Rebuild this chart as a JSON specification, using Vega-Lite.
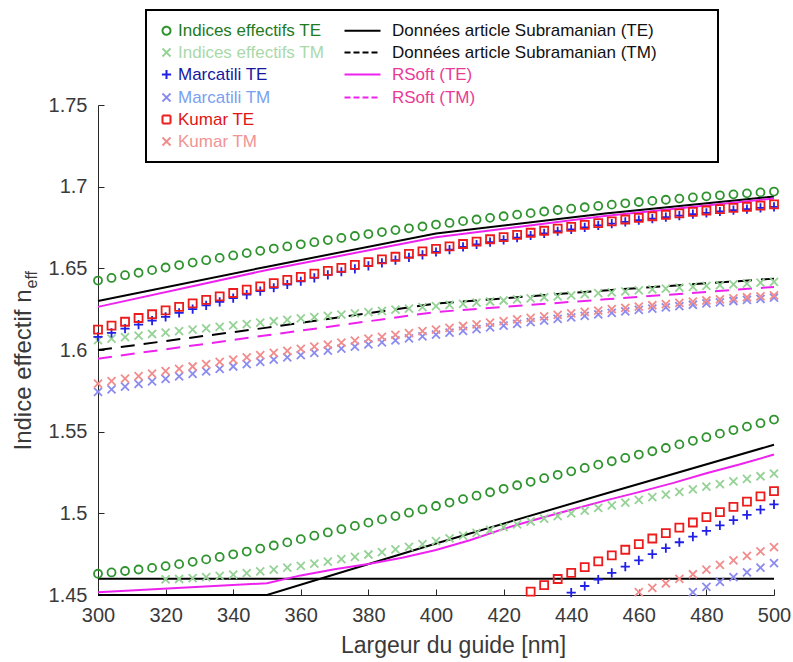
{
"$schema": "https://vega.github.io/schema/vega-lite/v6.json",
"width": 676, "height": 490,
"autosize": {"type": "none"},
"padding": {"left": 98, "top": 105, "right": 19, "bottom": 67},
"background": "white",
"config": {"font": "Liberation Sans", "view": {"stroke": null}, "legend": {"strokeWidth": 2}},
"datasets": {
"solid": [
{"s":"Données article Subramanian (TE)","b":"u","x":300,"y":1.630},{"s":"Données article Subramanian (TE)","b":"u","x":350,"y":1.651},{"s":"Données article Subramanian (TE)","b":"u","x":400,"y":1.6713},{"s":"Données article Subramanian (TE)","b":"u","x":450,"y":1.6835},{"s":"Données article Subramanian (TE)","b":"u","x":500,"y":1.694},
{"s":"Données article Subramanian (TE)","b":"l","x":300,"y":1.45},{"s":"Données article Subramanian (TE)","b":"l","x":350,"y":1.45},{"s":"Données article Subramanian (TE)","b":"l","x":400,"y":1.4815},{"s":"Données article Subramanian (TE)","b":"l","x":450,"y":1.512},{"s":"Données article Subramanian (TE)","b":"l","x":500,"y":1.542},
{"s":"Données article Subramanian (TE)","b":"h","x":300,"y":1.46},{"s":"Données article Subramanian (TE)","b":"h","x":500,"y":1.46},
{"s":"RSoft (TE)","b":"u","x":300,"y":1.6264},{"s":"RSoft (TE)","b":"u","x":350,"y":1.649},{"s":"RSoft (TE)","b":"u","x":400,"y":1.669},{"s":"RSoft (TE)","b":"u","x":450,"y":1.682},{"s":"RSoft (TE)","b":"u","x":500,"y":1.6928},
{"s":"RSoft (TE)","b":"l","x":300,"y":1.4517},{"s":"RSoft (TE)","b":"l","x":350,"y":1.4572},{"s":"RSoft (TE)","b":"l","x":360,"y":1.462},{"s":"RSoft (TE)","b":"l","x":370,"y":1.4658},{"s":"RSoft (TE)","b":"l","x":380,"y":1.469},{"s":"RSoft (TE)","b":"l","x":390,"y":1.4728},{"s":"RSoft (TE)","b":"l","x":400,"y":1.4775},{"s":"RSoft (TE)","b":"l","x":410,"y":1.4835},{"s":"RSoft (TE)","b":"l","x":420,"y":1.4905},{"s":"RSoft (TE)","b":"l","x":430,"y":1.4965},{"s":"RSoft (TE)","b":"l","x":440,"y":1.5022},{"s":"RSoft (TE)","b":"l","x":450,"y":1.5078},{"s":"RSoft (TE)","b":"l","x":460,"y":1.513},{"s":"RSoft (TE)","b":"l","x":470,"y":1.5185},{"s":"RSoft (TE)","b":"l","x":480,"y":1.5245},{"s":"RSoft (TE)","b":"l","x":490,"y":1.530},{"s":"RSoft (TE)","b":"l","x":500,"y":1.536}
],
"dashed": [
{"s":"Données article Subramanian (TM)","b":"u","x":300,"y":1.600},{"s":"Données article Subramanian (TM)","b":"u","x":350,"y":1.6137},{"s":"Données article Subramanian (TM)","b":"u","x":400,"y":1.6284},{"s":"Données article Subramanian (TM)","b":"u","x":450,"y":1.6365},{"s":"Données article Subramanian (TM)","b":"u","x":500,"y":1.6437},
{"s":"RSoft (TM)","b":"u","x":300,"y":1.5947},{"s":"RSoft (TM)","b":"u","x":350,"y":1.609},{"s":"RSoft (TM)","b":"u","x":400,"y":1.6233},{"s":"RSoft (TM)","b":"u","x":450,"y":1.631},{"s":"RSoft (TM)","b":"u","x":500,"y":1.6386}
],
"pts": [
{"s":"Indices effectifs TE","x":300,"y":1.6425},{"s":"Indices effectifs TE","x":304,"y":1.6441},{"s":"Indices effectifs TE","x":308,"y":1.6458},{"s":"Indices effectifs TE","x":312,"y":1.6473},{"s":"Indices effectifs TE","x":316,"y":1.6489},{"s":"Indices effectifs TE","x":320,"y":1.6505},{"s":"Indices effectifs TE","x":324,"y":1.6520},{"s":"Indices effectifs TE","x":328,"y":1.6535},{"s":"Indices effectifs TE","x":332,"y":1.6550},{"s":"Indices effectifs TE","x":336,"y":1.6564},{"s":"Indices effectifs TE","x":340,"y":1.6579},{"s":"Indices effectifs TE","x":344,"y":1.6593},{"s":"Indices effectifs TE","x":348,"y":1.6607},{"s":"Indices effectifs TE","x":352,"y":1.6621},{"s":"Indices effectifs TE","x":356,"y":1.6634},{"s":"Indices effectifs TE","x":360,"y":1.6647},{"s":"Indices effectifs TE","x":364,"y":1.6660},{"s":"Indices effectifs TE","x":368,"y":1.6673},{"s":"Indices effectifs TE","x":372,"y":1.6686},{"s":"Indices effectifs TE","x":376,"y":1.6698},{"s":"Indices effectifs TE","x":380,"y":1.6710},{"s":"Indices effectifs TE","x":384,"y":1.6722},{"s":"Indices effectifs TE","x":388,"y":1.6734},{"s":"Indices effectifs TE","x":392,"y":1.6745},{"s":"Indices effectifs TE","x":396,"y":1.6756},{"s":"Indices effectifs TE","x":400,"y":1.6768},{"s":"Indices effectifs TE","x":404,"y":1.6778},{"s":"Indices effectifs TE","x":408,"y":1.6789},{"s":"Indices effectifs TE","x":412,"y":1.6799},{"s":"Indices effectifs TE","x":416,"y":1.6809},{"s":"Indices effectifs TE","x":420,"y":1.6819},{"s":"Indices effectifs TE","x":424,"y":1.6829},{"s":"Indices effectifs TE","x":428,"y":1.6838},{"s":"Indices effectifs TE","x":432,"y":1.6848},{"s":"Indices effectifs TE","x":436,"y":1.6857},{"s":"Indices effectifs TE","x":440,"y":1.6865},{"s":"Indices effectifs TE","x":444,"y":1.6874},{"s":"Indices effectifs TE","x":448,"y":1.6882},{"s":"Indices effectifs TE","x":452,"y":1.6890},{"s":"Indices effectifs TE","x":456,"y":1.6898},{"s":"Indices effectifs TE","x":460,"y":1.6906},{"s":"Indices effectifs TE","x":464,"y":1.6913},{"s":"Indices effectifs TE","x":468,"y":1.6920},{"s":"Indices effectifs TE","x":472,"y":1.6927},{"s":"Indices effectifs TE","x":476,"y":1.6934},{"s":"Indices effectifs TE","x":480,"y":1.6941},{"s":"Indices effectifs TE","x":484,"y":1.6947},{"s":"Indices effectifs TE","x":488,"y":1.6953},{"s":"Indices effectifs TE","x":492,"y":1.6959},{"s":"Indices effectifs TE","x":496,"y":1.6965},{"s":"Indices effectifs TE","x":500,"y":1.6970},
{"s":"Indices effectifs TE","x":300,"y":1.4630},{"s":"Indices effectifs TE","x":304,"y":1.4638},{"s":"Indices effectifs TE","x":308,"y":1.4647},{"s":"Indices effectifs TE","x":312,"y":1.4656},{"s":"Indices effectifs TE","x":316,"y":1.4666},{"s":"Indices effectifs TE","x":320,"y":1.4677},{"s":"Indices effectifs TE","x":324,"y":1.4689},{"s":"Indices effectifs TE","x":328,"y":1.4703},{"s":"Indices effectifs TE","x":332,"y":1.4718},{"s":"Indices effectifs TE","x":336,"y":1.4733},{"s":"Indices effectifs TE","x":340,"y":1.4749},{"s":"Indices effectifs TE","x":344,"y":1.4766},{"s":"Indices effectifs TE","x":348,"y":1.4784},{"s":"Indices effectifs TE","x":352,"y":1.4803},{"s":"Indices effectifs TE","x":356,"y":1.4822},{"s":"Indices effectifs TE","x":360,"y":1.4842},{"s":"Indices effectifs TE","x":364,"y":1.4863},{"s":"Indices effectifs TE","x":368,"y":1.4883},{"s":"Indices effectifs TE","x":372,"y":1.4903},{"s":"Indices effectifs TE","x":376,"y":1.4923},{"s":"Indices effectifs TE","x":380,"y":1.4943},{"s":"Indices effectifs TE","x":384,"y":1.4963},{"s":"Indices effectifs TE","x":388,"y":1.4983},{"s":"Indices effectifs TE","x":392,"y":1.5004},{"s":"Indices effectifs TE","x":396,"y":1.5024},{"s":"Indices effectifs TE","x":400,"y":1.5045},{"s":"Indices effectifs TE","x":404,"y":1.5066},{"s":"Indices effectifs TE","x":408,"y":1.5087},{"s":"Indices effectifs TE","x":412,"y":1.5108},{"s":"Indices effectifs TE","x":416,"y":1.5129},{"s":"Indices effectifs TE","x":420,"y":1.5150},{"s":"Indices effectifs TE","x":424,"y":1.5172},{"s":"Indices effectifs TE","x":428,"y":1.5193},{"s":"Indices effectifs TE","x":432,"y":1.5215},{"s":"Indices effectifs TE","x":436,"y":1.5236},{"s":"Indices effectifs TE","x":440,"y":1.5257},{"s":"Indices effectifs TE","x":444,"y":1.5278},{"s":"Indices effectifs TE","x":448,"y":1.5298},{"s":"Indices effectifs TE","x":452,"y":1.5319},{"s":"Indices effectifs TE","x":456,"y":1.5339},{"s":"Indices effectifs TE","x":460,"y":1.5360},{"s":"Indices effectifs TE","x":464,"y":1.5380},{"s":"Indices effectifs TE","x":468,"y":1.5400},{"s":"Indices effectifs TE","x":472,"y":1.5422},{"s":"Indices effectifs TE","x":476,"y":1.5444},{"s":"Indices effectifs TE","x":480,"y":1.5466},{"s":"Indices effectifs TE","x":484,"y":1.5488},{"s":"Indices effectifs TE","x":488,"y":1.5510},{"s":"Indices effectifs TE","x":492,"y":1.5531},{"s":"Indices effectifs TE","x":496,"y":1.5552},{"s":"Indices effectifs TE","x":500,"y":1.5574},
{"s":"Indices effectifs TM","x":300,"y":1.6060},{"s":"Indices effectifs TM","x":304,"y":1.6070},{"s":"Indices effectifs TM","x":308,"y":1.6079},{"s":"Indices effectifs TM","x":312,"y":1.6088},{"s":"Indices effectifs TM","x":316,"y":1.6098},{"s":"Indices effectifs TM","x":320,"y":1.6107},{"s":"Indices effectifs TM","x":324,"y":1.6116},{"s":"Indices effectifs TM","x":328,"y":1.6125},{"s":"Indices effectifs TM","x":332,"y":1.6133},{"s":"Indices effectifs TM","x":336,"y":1.6142},{"s":"Indices effectifs TM","x":340,"y":1.6151},{"s":"Indices effectifs TM","x":344,"y":1.6159},{"s":"Indices effectifs TM","x":348,"y":1.6168},{"s":"Indices effectifs TM","x":352,"y":1.6176},{"s":"Indices effectifs TM","x":356,"y":1.6184},{"s":"Indices effectifs TM","x":360,"y":1.6193},{"s":"Indices effectifs TM","x":364,"y":1.6201},{"s":"Indices effectifs TM","x":368,"y":1.6209},{"s":"Indices effectifs TM","x":372,"y":1.6216},{"s":"Indices effectifs TM","x":376,"y":1.6224},{"s":"Indices effectifs TM","x":380,"y":1.6232},{"s":"Indices effectifs TM","x":384,"y":1.6240},{"s":"Indices effectifs TM","x":388,"y":1.6247},{"s":"Indices effectifs TM","x":392,"y":1.6254},{"s":"Indices effectifs TM","x":396,"y":1.6262},{"s":"Indices effectifs TM","x":400,"y":1.6269},{"s":"Indices effectifs TM","x":404,"y":1.6276},{"s":"Indices effectifs TM","x":408,"y":1.6283},{"s":"Indices effectifs TM","x":412,"y":1.6290},{"s":"Indices effectifs TM","x":416,"y":1.6297},{"s":"Indices effectifs TM","x":420,"y":1.6303},{"s":"Indices effectifs TM","x":424,"y":1.6310},{"s":"Indices effectifs TM","x":428,"y":1.6316},{"s":"Indices effectifs TM","x":432,"y":1.6323},{"s":"Indices effectifs TM","x":436,"y":1.6329},{"s":"Indices effectifs TM","x":440,"y":1.6335},{"s":"Indices effectifs TM","x":444,"y":1.6342},{"s":"Indices effectifs TM","x":448,"y":1.6348},{"s":"Indices effectifs TM","x":452,"y":1.6353},{"s":"Indices effectifs TM","x":456,"y":1.6359},{"s":"Indices effectifs TM","x":460,"y":1.6365},{"s":"Indices effectifs TM","x":464,"y":1.6371},{"s":"Indices effectifs TM","x":468,"y":1.6376},{"s":"Indices effectifs TM","x":472,"y":1.6382},{"s":"Indices effectifs TM","x":476,"y":1.6387},{"s":"Indices effectifs TM","x":480,"y":1.6392},{"s":"Indices effectifs TM","x":484,"y":1.6397},{"s":"Indices effectifs TM","x":488,"y":1.6402},{"s":"Indices effectifs TM","x":492,"y":1.6407},{"s":"Indices effectifs TM","x":496,"y":1.6412},{"s":"Indices effectifs TM","x":500,"y":1.6417},
{"s":"Indices effectifs TM","x":320,"y":1.4595},{"s":"Indices effectifs TM","x":324,"y":1.4598},{"s":"Indices effectifs TM","x":328,"y":1.4603},{"s":"Indices effectifs TM","x":332,"y":1.4610},{"s":"Indices effectifs TM","x":336,"y":1.4617},{"s":"Indices effectifs TM","x":340,"y":1.4625},{"s":"Indices effectifs TM","x":344,"y":1.4634},{"s":"Indices effectifs TM","x":348,"y":1.4644},{"s":"Indices effectifs TM","x":352,"y":1.4655},{"s":"Indices effectifs TM","x":356,"y":1.4667},{"s":"Indices effectifs TM","x":360,"y":1.4679},{"s":"Indices effectifs TM","x":364,"y":1.4692},{"s":"Indices effectifs TM","x":368,"y":1.4705},{"s":"Indices effectifs TM","x":372,"y":1.4719},{"s":"Indices effectifs TM","x":376,"y":1.4733},{"s":"Indices effectifs TM","x":380,"y":1.4748},{"s":"Indices effectifs TM","x":384,"y":1.4763},{"s":"Indices effectifs TM","x":388,"y":1.4779},{"s":"Indices effectifs TM","x":392,"y":1.4795},{"s":"Indices effectifs TM","x":396,"y":1.4812},{"s":"Indices effectifs TM","x":400,"y":1.4830},{"s":"Indices effectifs TM","x":404,"y":1.4847},{"s":"Indices effectifs TM","x":408,"y":1.4864},{"s":"Indices effectifs TM","x":412,"y":1.4881},{"s":"Indices effectifs TM","x":416,"y":1.4898},{"s":"Indices effectifs TM","x":420,"y":1.4915},{"s":"Indices effectifs TM","x":424,"y":1.4933},{"s":"Indices effectifs TM","x":428,"y":1.4950},{"s":"Indices effectifs TM","x":432,"y":1.4967},{"s":"Indices effectifs TM","x":436,"y":1.4983},{"s":"Indices effectifs TM","x":440,"y":1.5000},{"s":"Indices effectifs TM","x":444,"y":1.5016},{"s":"Indices effectifs TM","x":448,"y":1.5033},{"s":"Indices effectifs TM","x":452,"y":1.5049},{"s":"Indices effectifs TM","x":456,"y":1.5066},{"s":"Indices effectifs TM","x":460,"y":1.5082},{"s":"Indices effectifs TM","x":464,"y":1.5099},{"s":"Indices effectifs TM","x":468,"y":1.5115},{"s":"Indices effectifs TM","x":472,"y":1.5131},{"s":"Indices effectifs TM","x":476,"y":1.5147},{"s":"Indices effectifs TM","x":480,"y":1.5163},{"s":"Indices effectifs TM","x":484,"y":1.5179},{"s":"Indices effectifs TM","x":488,"y":1.5195},{"s":"Indices effectifs TM","x":492,"y":1.5211},{"s":"Indices effectifs TM","x":496,"y":1.5227},{"s":"Indices effectifs TM","x":500,"y":1.5243},
{"s":"Marcatili TE","x":300,"y":1.6080},{"s":"Marcatili TE","x":304,"y":1.6105},{"s":"Marcatili TE","x":308,"y":1.6131},{"s":"Marcatili TE","x":312,"y":1.6155},{"s":"Marcatili TE","x":316,"y":1.6180},{"s":"Marcatili TE","x":320,"y":1.6203},{"s":"Marcatili TE","x":324,"y":1.6227},{"s":"Marcatili TE","x":328,"y":1.6250},{"s":"Marcatili TE","x":332,"y":1.6273},{"s":"Marcatili TE","x":336,"y":1.6295},{"s":"Marcatili TE","x":340,"y":1.6317},{"s":"Marcatili TE","x":344,"y":1.6339},{"s":"Marcatili TE","x":348,"y":1.6360},{"s":"Marcatili TE","x":352,"y":1.6381},{"s":"Marcatili TE","x":356,"y":1.6401},{"s":"Marcatili TE","x":360,"y":1.6421},{"s":"Marcatili TE","x":364,"y":1.6441},{"s":"Marcatili TE","x":368,"y":1.6460},{"s":"Marcatili TE","x":372,"y":1.6479},{"s":"Marcatili TE","x":376,"y":1.6497},{"s":"Marcatili TE","x":380,"y":1.6515},{"s":"Marcatili TE","x":384,"y":1.6533},{"s":"Marcatili TE","x":388,"y":1.6550},{"s":"Marcatili TE","x":392,"y":1.6567},{"s":"Marcatili TE","x":396,"y":1.6583},{"s":"Marcatili TE","x":400,"y":1.6600},{"s":"Marcatili TE","x":404,"y":1.6615},{"s":"Marcatili TE","x":408,"y":1.6631},{"s":"Marcatili TE","x":412,"y":1.6646},{"s":"Marcatili TE","x":416,"y":1.6660},{"s":"Marcatili TE","x":420,"y":1.6674},{"s":"Marcatili TE","x":424,"y":1.6688},{"s":"Marcatili TE","x":428,"y":1.6701},{"s":"Marcatili TE","x":432,"y":1.6714},{"s":"Marcatili TE","x":436,"y":1.6727},{"s":"Marcatili TE","x":440,"y":1.6739},{"s":"Marcatili TE","x":444,"y":1.6751},{"s":"Marcatili TE","x":448,"y":1.6763},{"s":"Marcatili TE","x":452,"y":1.6774},{"s":"Marcatili TE","x":456,"y":1.6784},{"s":"Marcatili TE","x":460,"y":1.6795},{"s":"Marcatili TE","x":464,"y":1.6804},{"s":"Marcatili TE","x":468,"y":1.6814},{"s":"Marcatili TE","x":472,"y":1.6823},{"s":"Marcatili TE","x":476,"y":1.6832},{"s":"Marcatili TE","x":480,"y":1.6840},{"s":"Marcatili TE","x":484,"y":1.6848},{"s":"Marcatili TE","x":488,"y":1.6856},{"s":"Marcatili TE","x":492,"y":1.6863},{"s":"Marcatili TE","x":496,"y":1.6870},{"s":"Marcatili TE","x":500,"y":1.6876},
{"s":"Marcatili TE","x":440,"y":1.4515},{"s":"Marcatili TE","x":444,"y":1.4555},{"s":"Marcatili TE","x":448,"y":1.4595},{"s":"Marcatili TE","x":452,"y":1.4635},{"s":"Marcatili TE","x":456,"y":1.4674},{"s":"Marcatili TE","x":460,"y":1.4712},{"s":"Marcatili TE","x":464,"y":1.4750},{"s":"Marcatili TE","x":468,"y":1.4787},{"s":"Marcatili TE","x":472,"y":1.4823},{"s":"Marcatili TE","x":476,"y":1.4858},{"s":"Marcatili TE","x":480,"y":1.4892},{"s":"Marcatili TE","x":484,"y":1.4926},{"s":"Marcatili TE","x":488,"y":1.4959},{"s":"Marcatili TE","x":492,"y":1.4991},{"s":"Marcatili TE","x":496,"y":1.5023},{"s":"Marcatili TE","x":500,"y":1.5055},
{"s":"Marcatili TM","x":300,"y":1.5743},{"s":"Marcatili TM","x":304,"y":1.5759},{"s":"Marcatili TM","x":308,"y":1.5776},{"s":"Marcatili TM","x":312,"y":1.5792},{"s":"Marcatili TM","x":316,"y":1.5808},{"s":"Marcatili TM","x":320,"y":1.5823},{"s":"Marcatili TM","x":324,"y":1.5839},{"s":"Marcatili TM","x":328,"y":1.5854},{"s":"Marcatili TM","x":332,"y":1.5869},{"s":"Marcatili TM","x":336,"y":1.5884},{"s":"Marcatili TM","x":340,"y":1.5899},{"s":"Marcatili TM","x":344,"y":1.5913},{"s":"Marcatili TM","x":348,"y":1.5927},{"s":"Marcatili TM","x":352,"y":1.5941},{"s":"Marcatili TM","x":356,"y":1.5955},{"s":"Marcatili TM","x":360,"y":1.5969},{"s":"Marcatili TM","x":364,"y":1.5982},{"s":"Marcatili TM","x":368,"y":1.5996},{"s":"Marcatili TM","x":372,"y":1.6009},{"s":"Marcatili TM","x":376,"y":1.6021},{"s":"Marcatili TM","x":380,"y":1.6034},{"s":"Marcatili TM","x":384,"y":1.6047},{"s":"Marcatili TM","x":388,"y":1.6059},{"s":"Marcatili TM","x":392,"y":1.6071},{"s":"Marcatili TM","x":396,"y":1.6083},{"s":"Marcatili TM","x":400,"y":1.6094},{"s":"Marcatili TM","x":404,"y":1.6106},{"s":"Marcatili TM","x":408,"y":1.6117},{"s":"Marcatili TM","x":412,"y":1.6128},{"s":"Marcatili TM","x":416,"y":1.6139},{"s":"Marcatili TM","x":420,"y":1.6149},{"s":"Marcatili TM","x":424,"y":1.6160},{"s":"Marcatili TM","x":428,"y":1.6170},{"s":"Marcatili TM","x":432,"y":1.6180},{"s":"Marcatili TM","x":436,"y":1.6190},{"s":"Marcatili TM","x":440,"y":1.6200},{"s":"Marcatili TM","x":444,"y":1.6209},{"s":"Marcatili TM","x":448,"y":1.6218},{"s":"Marcatili TM","x":452,"y":1.6227},{"s":"Marcatili TM","x":456,"y":1.6236},{"s":"Marcatili TM","x":460,"y":1.6245},{"s":"Marcatili TM","x":464,"y":1.6253},{"s":"Marcatili TM","x":468,"y":1.6261},{"s":"Marcatili TM","x":472,"y":1.6269},{"s":"Marcatili TM","x":476,"y":1.6277},{"s":"Marcatili TM","x":480,"y":1.6285},{"s":"Marcatili TM","x":484,"y":1.6292},{"s":"Marcatili TM","x":488,"y":1.6300},{"s":"Marcatili TM","x":492,"y":1.6307},{"s":"Marcatili TM","x":496,"y":1.6313},{"s":"Marcatili TM","x":500,"y":1.6320},
{"s":"Marcatili TM","x":476,"y":1.4517},{"s":"Marcatili TM","x":480,"y":1.4550},{"s":"Marcatili TM","x":484,"y":1.4580},{"s":"Marcatili TM","x":488,"y":1.4610},{"s":"Marcatili TM","x":492,"y":1.4639},{"s":"Marcatili TM","x":496,"y":1.4667},{"s":"Marcatili TM","x":500,"y":1.4695},
{"s":"Kumar TE","x":300,"y":1.6125},{"s":"Kumar TE","x":304,"y":1.6149},{"s":"Kumar TE","x":308,"y":1.6173},{"s":"Kumar TE","x":312,"y":1.6196},{"s":"Kumar TE","x":316,"y":1.6219},{"s":"Kumar TE","x":320,"y":1.6242},{"s":"Kumar TE","x":324,"y":1.6264},{"s":"Kumar TE","x":328,"y":1.6286},{"s":"Kumar TE","x":332,"y":1.6307},{"s":"Kumar TE","x":336,"y":1.6328},{"s":"Kumar TE","x":340,"y":1.6349},{"s":"Kumar TE","x":344,"y":1.6370},{"s":"Kumar TE","x":348,"y":1.6390},{"s":"Kumar TE","x":352,"y":1.6410},{"s":"Kumar TE","x":356,"y":1.6429},{"s":"Kumar TE","x":360,"y":1.6448},{"s":"Kumar TE","x":364,"y":1.6467},{"s":"Kumar TE","x":368,"y":1.6485},{"s":"Kumar TE","x":372,"y":1.6503},{"s":"Kumar TE","x":376,"y":1.6521},{"s":"Kumar TE","x":380,"y":1.6538},{"s":"Kumar TE","x":384,"y":1.6555},{"s":"Kumar TE","x":388,"y":1.6571},{"s":"Kumar TE","x":392,"y":1.6588},{"s":"Kumar TE","x":396,"y":1.6604},{"s":"Kumar TE","x":400,"y":1.6619},{"s":"Kumar TE","x":404,"y":1.6634},{"s":"Kumar TE","x":408,"y":1.6649},{"s":"Kumar TE","x":412,"y":1.6663},{"s":"Kumar TE","x":416,"y":1.6678},{"s":"Kumar TE","x":420,"y":1.6691},{"s":"Kumar TE","x":424,"y":1.6705},{"s":"Kumar TE","x":428,"y":1.6718},{"s":"Kumar TE","x":432,"y":1.6730},{"s":"Kumar TE","x":436,"y":1.6743},{"s":"Kumar TE","x":440,"y":1.6754},{"s":"Kumar TE","x":444,"y":1.6766},{"s":"Kumar TE","x":448,"y":1.6777},{"s":"Kumar TE","x":452,"y":1.6788},{"s":"Kumar TE","x":456,"y":1.6799},{"s":"Kumar TE","x":460,"y":1.6809},{"s":"Kumar TE","x":464,"y":1.6819},{"s":"Kumar TE","x":468,"y":1.6828},{"s":"Kumar TE","x":472,"y":1.6837},{"s":"Kumar TE","x":476,"y":1.6846},{"s":"Kumar TE","x":480,"y":1.6854},{"s":"Kumar TE","x":484,"y":1.6862},{"s":"Kumar TE","x":488,"y":1.6870},{"s":"Kumar TE","x":492,"y":1.6877},{"s":"Kumar TE","x":496,"y":1.6884},{"s":"Kumar TE","x":500,"y":1.6891},
{"s":"Kumar TE","x":428,"y":1.4521},{"s":"Kumar TE","x":432,"y":1.4560},{"s":"Kumar TE","x":436,"y":1.4598},{"s":"Kumar TE","x":440,"y":1.4635},{"s":"Kumar TE","x":444,"y":1.4671},{"s":"Kumar TE","x":448,"y":1.4706},{"s":"Kumar TE","x":452,"y":1.4743},{"s":"Kumar TE","x":456,"y":1.4777},{"s":"Kumar TE","x":460,"y":1.4811},{"s":"Kumar TE","x":464,"y":1.4846},{"s":"Kumar TE","x":468,"y":1.4879},{"s":"Kumar TE","x":472,"y":1.4912},{"s":"Kumar TE","x":476,"y":1.4944},{"s":"Kumar TE","x":480,"y":1.4977},{"s":"Kumar TE","x":484,"y":1.5008},{"s":"Kumar TE","x":488,"y":1.5040},{"s":"Kumar TE","x":492,"y":1.5072},{"s":"Kumar TE","x":496,"y":1.5104},{"s":"Kumar TE","x":500,"y":1.5136},
{"s":"Kumar TM","x":300,"y":1.5794},{"s":"Kumar TM","x":304,"y":1.5810},{"s":"Kumar TM","x":308,"y":1.5825},{"s":"Kumar TM","x":312,"y":1.5840},{"s":"Kumar TM","x":316,"y":1.5855},{"s":"Kumar TM","x":320,"y":1.5870},{"s":"Kumar TM","x":324,"y":1.5885},{"s":"Kumar TM","x":328,"y":1.5899},{"s":"Kumar TM","x":332,"y":1.5913},{"s":"Kumar TM","x":336,"y":1.5927},{"s":"Kumar TM","x":340,"y":1.5941},{"s":"Kumar TM","x":344,"y":1.5955},{"s":"Kumar TM","x":348,"y":1.5968},{"s":"Kumar TM","x":352,"y":1.5982},{"s":"Kumar TM","x":356,"y":1.5995},{"s":"Kumar TM","x":360,"y":1.6007},{"s":"Kumar TM","x":364,"y":1.6020},{"s":"Kumar TM","x":368,"y":1.6033},{"s":"Kumar TM","x":372,"y":1.6045},{"s":"Kumar TM","x":376,"y":1.6057},{"s":"Kumar TM","x":380,"y":1.6069},{"s":"Kumar TM","x":384,"y":1.6081},{"s":"Kumar TM","x":388,"y":1.6092},{"s":"Kumar TM","x":392,"y":1.6103},{"s":"Kumar TM","x":396,"y":1.6115},{"s":"Kumar TM","x":400,"y":1.6125},{"s":"Kumar TM","x":404,"y":1.6136},{"s":"Kumar TM","x":408,"y":1.6147},{"s":"Kumar TM","x":412,"y":1.6157},{"s":"Kumar TM","x":416,"y":1.6167},{"s":"Kumar TM","x":420,"y":1.6177},{"s":"Kumar TM","x":424,"y":1.6187},{"s":"Kumar TM","x":428,"y":1.6196},{"s":"Kumar TM","x":432,"y":1.6206},{"s":"Kumar TM","x":436,"y":1.6215},{"s":"Kumar TM","x":440,"y":1.6224},{"s":"Kumar TM","x":444,"y":1.6233},{"s":"Kumar TM","x":448,"y":1.6241},{"s":"Kumar TM","x":452,"y":1.6250},{"s":"Kumar TM","x":456,"y":1.6258},{"s":"Kumar TM","x":460,"y":1.6266},{"s":"Kumar TM","x":464,"y":1.6274},{"s":"Kumar TM","x":468,"y":1.6281},{"s":"Kumar TM","x":472,"y":1.6289},{"s":"Kumar TM","x":476,"y":1.6296},{"s":"Kumar TM","x":480,"y":1.6303},{"s":"Kumar TM","x":484,"y":1.6310},{"s":"Kumar TM","x":488,"y":1.6316},{"s":"Kumar TM","x":492,"y":1.6323},{"s":"Kumar TM","x":496,"y":1.6329},{"s":"Kumar TM","x":500,"y":1.6335},
{"s":"Kumar TM","x":460,"y":1.4517},{"s":"Kumar TM","x":464,"y":1.4544},{"s":"Kumar TM","x":468,"y":1.4571},{"s":"Kumar TM","x":472,"y":1.4599},{"s":"Kumar TM","x":476,"y":1.4627},{"s":"Kumar TM","x":480,"y":1.4656},{"s":"Kumar TM","x":484,"y":1.4684},{"s":"Kumar TM","x":488,"y":1.4712},{"s":"Kumar TM","x":492,"y":1.4740},{"s":"Kumar TM","x":496,"y":1.4767},{"s":"Kumar TM","x":500,"y":1.4793}
]
},
"layer": [
{
"data": {"name": "solid"},
"mark": {"type": "line", "strokeWidth": 2},
"encoding": {
"x": {"field": "x", "type": "quantitative", "scale": {"domain": [300, 500], "nice": false, "zero": false},
"axis": {"title": "Largeur du guide [nm]", "values": [300,320,340,360,380,400,420,440,460,480,500], "grid": false, "tickSize": -6, "labelPadding": 16, "labelFontSize": 20, "labelColor": "#3a3a3a", "domainColor": "#262626", "tickColor": "#262626", "titleFontSize": 23, "titleFontWeight": "normal", "titleColor": "#3a3a3a", "titlePadding": 9, "titleX": 355, "labelFlush": false}},
"y": {"field": "y", "type": "quantitative", "scale": {"domain": [1.45, 1.75], "nice": false, "zero": false},
"axis": {"title": "Indice effectif n", "values": [1.45,1.5,1.55,1.6,1.65,1.7,1.75], "format": ".2~f", "grid": false, "tickSize": -6, "labelPadding": 17, "labelFontSize": 20, "labelColor": "#3a3a3a", "domainColor": "#262626", "tickColor": "#262626", "titleFontSize": 24, "titleFontWeight": "normal", "titleColor": "#3a3a3a", "titleX": -68, "titleY": 345, "titleAlign": "left", "titleBaseline": "alphabetic", "titleAngle": -90}},
"color": {"field": "s", "type": "nominal", "title": "\u00a0",
"scale": {"domain": ["Indices effectifs TE","Indices effectifs TM","Marcatili TE","Marcatili TM","Kumar TE","Kumar TM","Données article Subramanian (TE)","Données article Subramanian (TM)","RSoft (TE)","RSoft (TM)"," ","  "],
"range": ["#2f942f","#95d295","#1f1fe6","#8b8bef","#ec1c1c","#f28c8c","#000000","#000000","#ee22ee","#ee22ee","transparent","transparent"]},
"legend": {"orient": "none", "legendX": 48, "legendY": -95, "direction": "vertical", "columns": 2, "strokeColor": "black", "fillColor": "white", "padding": 12, "symbolSize": 64, "symbolStrokeWidth": 2, "labelFontSize": 17, "labelOffset": 3, "labelLimit": 400, "rowPadding": 4, "columnPadding": 15, "titleOrient": "right", "titlePadding": 49,
"labelColor": {"expr": "['#1e7b1e','#a9d9a9','#17179e','#7b9ff0','#e01414','#f09494','#111111','#111111','#ea3a96','#ea3a96','#ffffff','#ffffff'][datum.index]"},
"symbolDash": {"expr": "(datum.index == 7 || datum.index == 9) ? [6,3] : [1,0]"}}},
"detail": {"field": "b"}
}
},
{
"data": {"name": "dashed"},
"mark": {"type": "line", "strokeWidth": 2, "strokeDash": [14, 9]},
"encoding": {
"x": {"field": "x", "type": "quantitative"},
"y": {"field": "y", "type": "quantitative", "axis": null},
"color": {"field": "s", "type": "nominal", "title": "\u00a0"},
"detail": {"field": "b"}
}
},
{
"data": {"name": "pts"},
"mark": {"type": "point", "filled": false, "size": 64, "strokeWidth": 1.8, "opacity": 1},
"encoding": {
"x": {"field": "x", "type": "quantitative"},
"y": {"field": "y", "type": "quantitative", "axis": {"orient": "left", "title": "eff", "domain": false, "ticks": false, "labels": false, "grid": false, "titleFontSize": 16, "titleFontWeight": "normal", "titleColor": "#3a3a3a", "titleX": -62, "titleY": 183, "titleAlign": "left", "titleBaseline": "alphabetic", "titleAngle": -90}},
"color": {"field": "s", "type": "nominal", "title": "\u00a0"},
"shape": {"field": "s", "type": "nominal", "title": "\u00a0",
"scale": {"domain": ["Indices effectifs TE","Indices effectifs TM","Marcatili TE","Marcatili TM","Kumar TE","Kumar TM","Données article Subramanian (TE)","Données article Subramanian (TM)","RSoft (TE)","RSoft (TM)"," ","  "],
"range": ["circle","M-1,-1L1,1M-1,1L1,-1","M-1.15,0L1.15,0M0,-1.15L0,1.15","M-1,-1L1,1M-1,1L1,-1","square","M-1,-1L1,1M-1,1L1,-1","M-9,0L0,0","M-9,0L0,0","M-9,0L0,0","M-9,0L0,0","M0,0L0,0","M0,0L0,0"]},
"legend": {"orient": "none", "legendX": 48, "legendY": -95, "direction": "vertical", "columns": 2, "strokeColor": "black", "fillColor": "white", "padding": 12, "symbolSize": 64, "symbolStrokeWidth": 2, "labelFontSize": 17, "labelOffset": 3, "labelLimit": 400, "rowPadding": 4, "columnPadding": 15, "titleOrient": "right", "titlePadding": 49,
"labelColor": {"expr": "['#1e7b1e','#a9d9a9','#17179e','#7b9ff0','#e01414','#f09494','#111111','#111111','#ea3a96','#ea3a96','#ffffff','#ffffff'][datum.index]"},
"symbolDash": {"expr": "(datum.index == 7 || datum.index == 9) ? [6,3] : [1,0]"}}}
}
}
],
"resolve": {"axis": {"y": "independent"}}
}
